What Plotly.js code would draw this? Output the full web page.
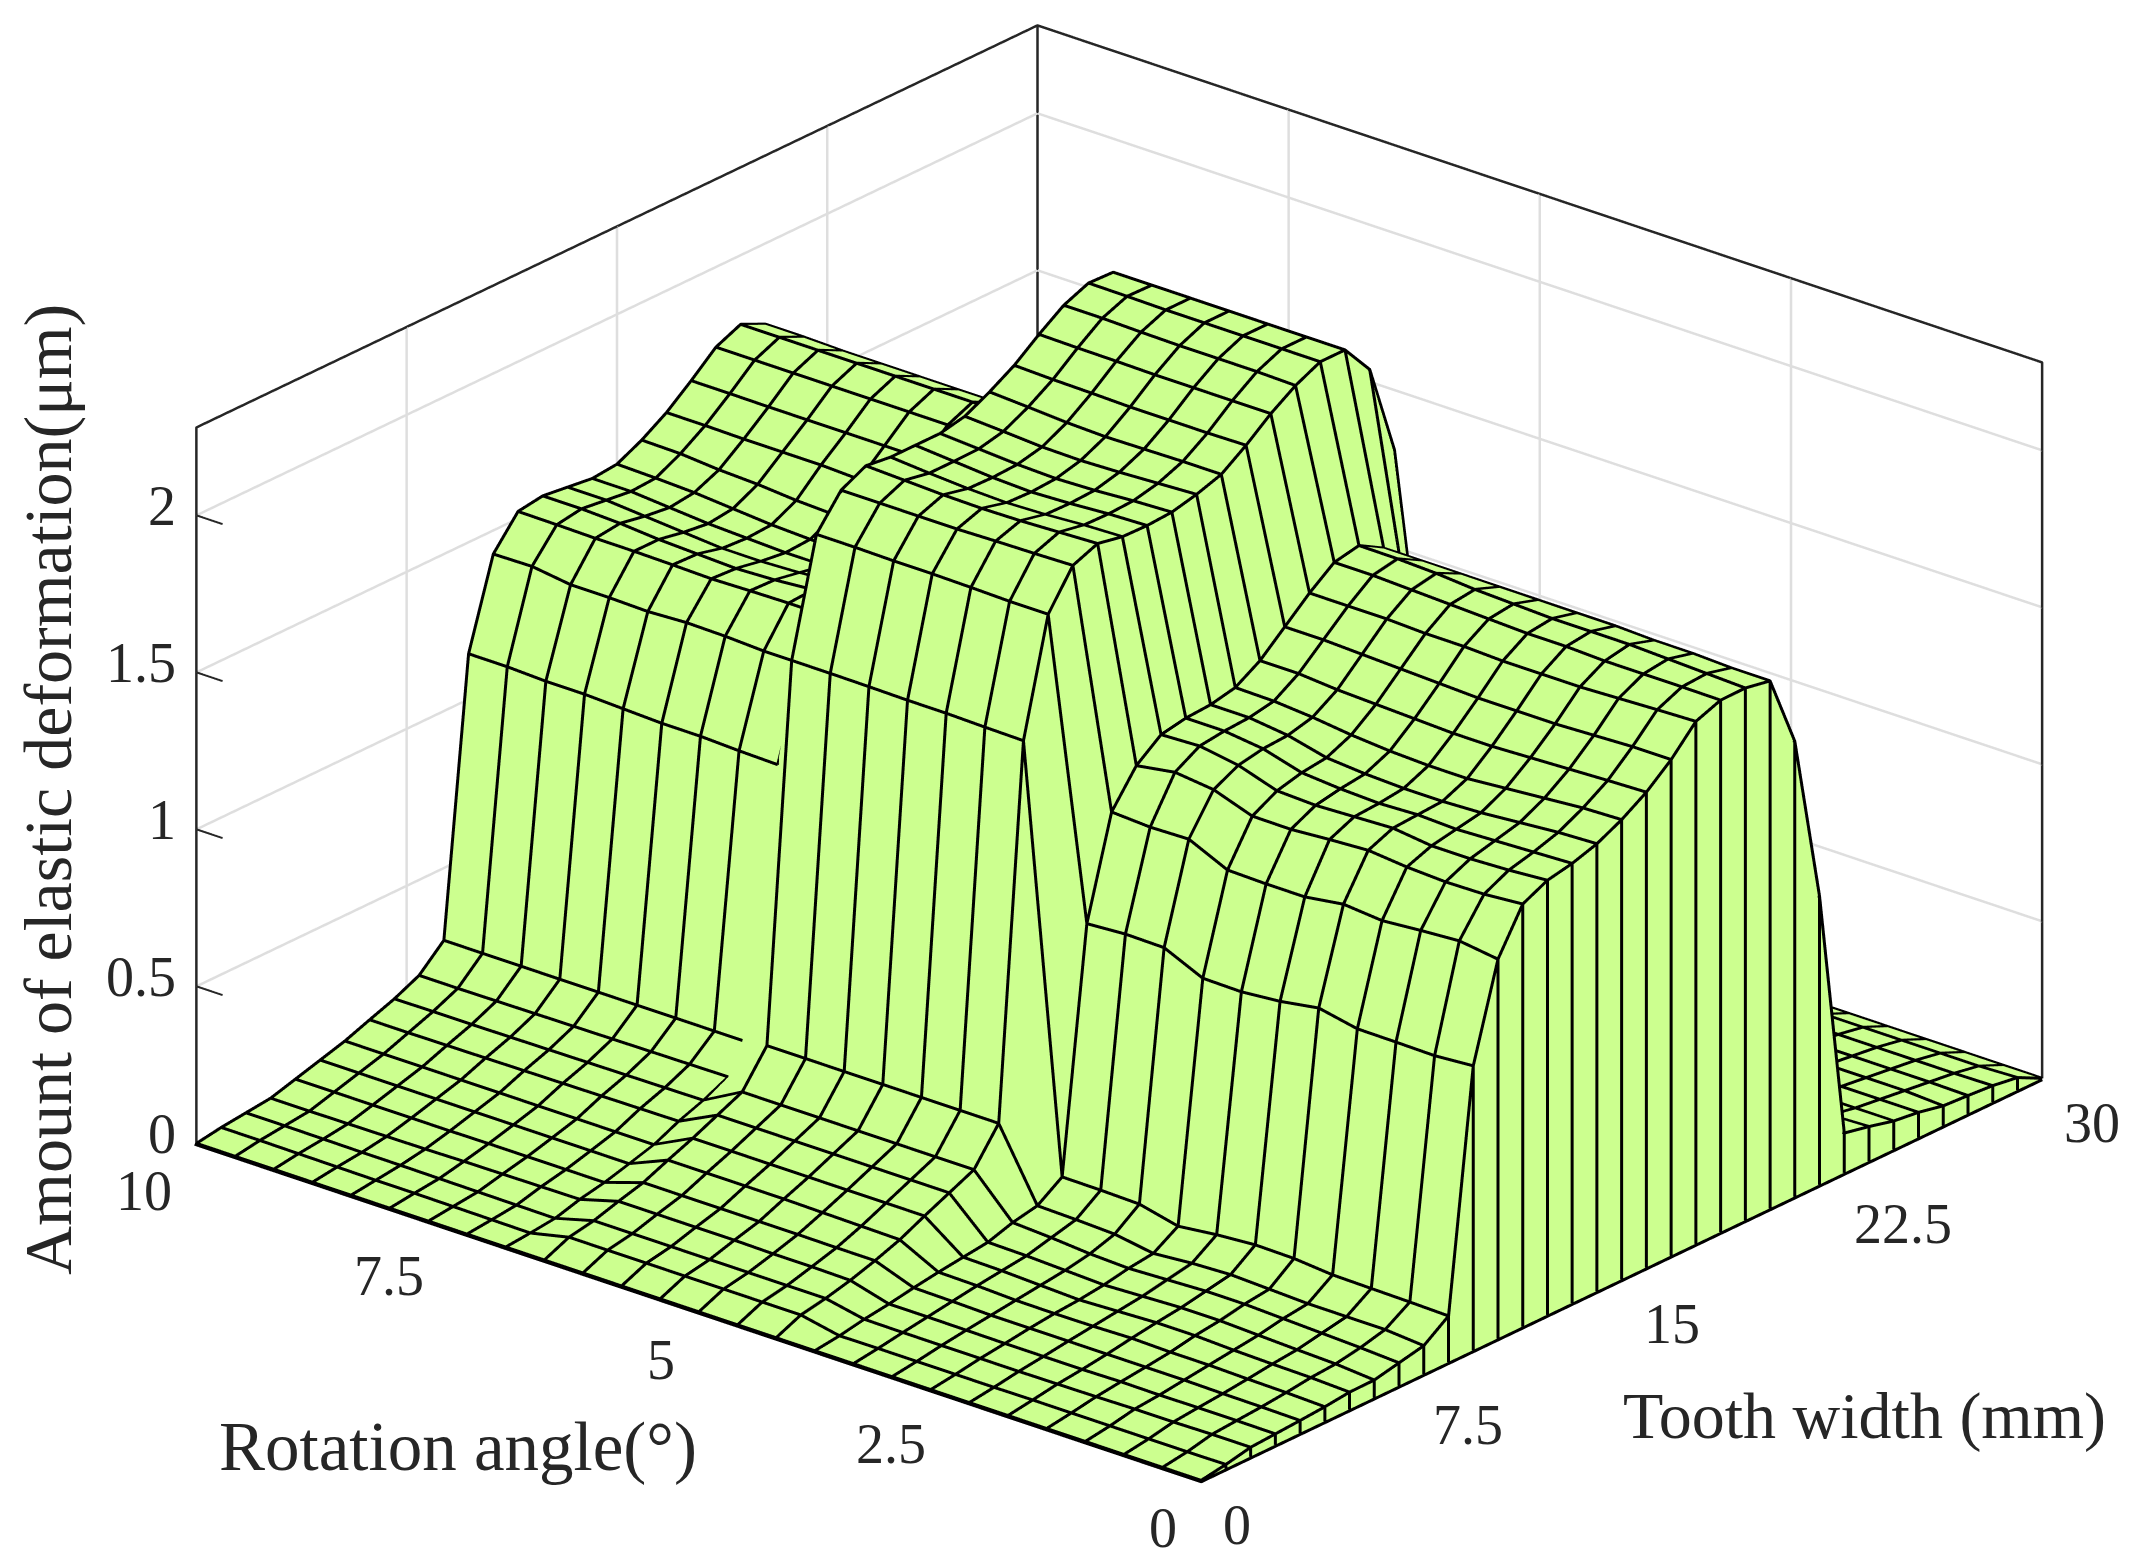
<!DOCTYPE html>
<html>
<head>
<meta charset="utf-8">
<script src="https://cdn.plot.ly/plotly-3.0.1.min.js"></script>
<style>
  html, body { margin: 0; padding: 0; background: #ffffff; }
  #chart { width: 2139px; height: 1564px; }
</style>
</head>
<body>
<div id="chart"></div>
<script>
const toothWidth = [0,0.882,1.765,2.647,3.529,4.412,5.294,6.176,7.059,7.941,8.824,9.706,10.588,11.471,12.353,13.235,14.118,15,15.882,16.765,17.647,18.529,19.412,20.294,21.176,22.059,22.941,23.824,24.706,25.588,26.471,27.353,28.235,29.118,30]
const rotationAngle = [0,0.385,0.769,1.154,1.538,1.923,2.308,2.692,3.077,3.462,3.846,4.231,4.615,5,5.385,5.769,6.154,6.538,6.923,7.308,7.692,8.077,8.462,8.846,9.231,9.615,10]

// one row per rotation angle, one column per tooth width position
const deformation = [
  [0,.013,.03,.035,.04,.046,.055,.056,.073,.09,.147,.906,1.208,1.346,1.384,1.4,1.425,1.464,1.514,1.58,1.664,1.694,1.695,1.68,1.45,.918,.127,.11,.09,.08,.063,.058,.052,.04,0],
  [0,.012,.03,.036,.042,.05,.06,.066,.08,.1,.15,.897,1.225,1.336,1.375,1.395,1.42,1.46,1.51,1.58,1.66,1.695,1.7,1.68,1.45,.92,.13,.105,.09,.08,.07,.06,.05,.035,0],
  [0,.012,.028,.036,.043,.052,.062,.07,.085,.1,.152,.899,1.217,1.334,1.37,1.39,1.41,1.45,1.505,1.575,1.655,1.695,1.705,1.685,1.45,.92,.13,.105,.09,.08,.07,.06,.05,.035,0],
  [0,.012,.028,.035,.045,.055,.065,.075,.09,.1,.154,.9,1.207,1.34,1.37,1.385,1.4,1.44,1.5,1.57,1.65,1.695,1.71,1.685,1.45,.92,.13,.105,.09,.08,.07,.06,.05,.035,0],
  [0,.012,.026,.036,.045,.055,.07,.08,.095,.105,.165,.925,1.218,1.352,1.385,1.39,1.395,1.43,1.495,1.57,1.65,1.7,1.71,1.69,1.45,.92,.13,.105,.09,.08,.07,.06,.05,.035,0],
  [0,.012,.025,.034,.045,.058,.07,.08,.095,.11,.167,.905,1.2,1.345,1.38,1.385,1.395,1.43,1.495,1.57,1.65,1.7,1.71,1.69,1.45,.92,.13,.105,.09,.08,.07,.06,.05,.035,0],
  [0,.011,.024,.034,.045,.055,.065,.075,.09,.105,.158,.894,1.2,1.336,1.375,1.39,1.4,1.435,1.5,1.575,1.655,1.705,1.715,1.69,1.45,.92,.13,.105,.09,.08,.07,.06,.05,.035,0],
  [0,.011,.024,.034,.045,.054,.06,.07,.085,.095,.144,.896,1.203,1.337,1.38,1.4,1.41,1.445,1.505,1.58,1.655,1.71,1.72,1.69,1.45,.92,.13,.105,.09,.08,.07,.06,.05,.035,0],
  [0,.011,.024,.035,.045,.055,.065,.075,.09,.115,.173,.952,1.26,1.38,1.42,1.435,1.44,1.46,1.51,1.585,1.66,1.715,1.73,1.69,1.45,.92,.13,.105,.09,.08,.07,.06,.05,.035,0],
  [0,.011,.024,.036,.048,.06,.07,.08,.1,.12,.176,.954,1.257,1.394,1.44,1.45,1.455,1.47,1.52,1.59,1.66,1.72,1.735,1.69,1.45,.92,.13,.105,.09,.08,.07,.06,.05,.035,0],
  [0,.01,.025,.036,.05,.062,.072,.082,.107,.123,.177,.946,1.264,1.374,1.435,1.45,1.455,1.472,1.52,1.59,1.66,1.72,1.736,1.69,1.45,.92,.13,.105,.09,.08,.07,.06,.05,.035,0],
  [0,.035,.05,.07,.095,.124,.162,.198,.234,.344,1.525,1.89,2.008,2.04,2.024,2.022,2.027,2.046,2.072,2.127,2.19,2.242,2.28,2.28,2.18,1.886,.8,.14,.1,.09,.07,.06,.05,.03,0],
  [0,.035,.05,.072,.095,.126,.162,.198,.234,.344,1.527,1.89,2.005,2.035,2.02,2.018,2.022,2.04,2.072,2.125,2.19,2.245,2.28,2.28,2.18,1.886,.8,.14,.1,.09,.07,.06,.05,.03,0],
  [0,.035,.05,.072,.096,.128,.162,.198,.234,.344,1.53,1.893,2.003,2.03,2.012,2.01,2.014,2.034,2.07,2.125,2.19,2.245,2.28,2.28,2.18,1.886,.8,.14,.1,.09,.07,.06,.05,.03,0],
  [0,.035,.05,.074,.096,.13,.162,.198,.234,.344,1.53,1.895,2.0,2.028,2.008,2.005,2.01,2.03,2.068,2.125,2.19,2.245,2.28,2.28,2.18,1.886,.8,.14,.1,.09,.07,.06,.05,.03,0],
  [0,.035,.05,.074,.096,.13,.162,.198,.234,.344,1.532,1.895,2.0,2.03,2.012,2.01,2.014,2.032,2.072,2.128,2.192,2.247,2.28,2.28,2.18,1.886,.8,.14,.1,.09,.07,.06,.05,.03,0],
  [0,.035,.05,.074,.096,.13,.162,.198,.234,.344,1.533,1.897,2.0,2.035,2.02,2.02,2.022,2.04,2.08,2.13,2.193,2.25,2.282,2.28,2.18,1.886,.8,.14,.1,.09,.07,.06,.05,.03,0],
  [0,.035,.05,.074,.096,.13,.162,.198,.234,.344,1.533,1.897,2.0,2.04,2.03,2.03,2.03,2.047,2.087,2.134,2.195,2.25,2.283,2.28,2.18,1.886,.8,.14,.1,.09,.07,.06,.05,.03,0],
  [0,.007,.016,.039,.055,.077,.1,.137,.166,.203,.27,1.122,1.405,1.52,1.53,1.52,1.5,1.49,1.52,1.6,1.67,1.74,1.78,1.74,1.5,.95,.15,.1,.09,.08,.07,.06,.05,.03,0],
  [0,.008,.017,.038,.055,.077,.1,.136,.165,.202,.27,1.125,1.405,1.52,1.525,1.51,1.49,1.485,1.52,1.6,1.67,1.74,1.78,1.74,1.5,.95,.15,.1,.09,.08,.07,.06,.05,.03,0],
  [0,.009,.018,.037,.055,.077,.1,.135,.164,.201,.27,1.13,1.411,1.518,1.515,1.5,1.485,1.485,1.525,1.605,1.675,1.745,1.78,1.74,1.5,.95,.15,.1,.09,.08,.07,.06,.05,.03,0],
  [0,.01,.019,.036,.055,.077,.1,.134,.163,.2,.27,1.13,1.413,1.515,1.51,1.495,1.485,1.49,1.53,1.605,1.675,1.745,1.78,1.74,1.5,.95,.15,.1,.09,.08,.07,.06,.05,.03,0],
  [0,.01,.02,.034,.054,.077,.1,.133,.162,.199,.27,1.135,1.407,1.518,1.515,1.495,1.49,1.495,1.535,1.61,1.675,1.745,1.78,1.74,1.5,.95,.15,.1,.09,.08,.07,.06,.05,.03,0],
  [0,.011,.02,.033,.054,.077,.1,.132,.161,.198,.27,1.14,1.41,1.52,1.52,1.505,1.495,1.505,1.545,1.61,1.675,1.745,1.78,1.74,1.5,.95,.15,.1,.09,.08,.07,.06,.05,.03,0],
  [0,.012,.021,.032,.054,.077,.1,.131,.16,.197,.27,1.14,1.41,1.52,1.53,1.515,1.505,1.515,1.55,1.61,1.675,1.745,1.78,1.74,1.5,.95,.15,.1,.09,.08,.07,.06,.05,.03,0],
  [0,.013,.022,.031,.054,.077,.1,.13,.16,.196,.27,1.145,1.427,1.522,1.535,1.525,1.515,1.52,1.56,1.612,1.676,1.745,1.78,1.743,1.5,.95,.15,.1,.09,.08,.07,.06,.05,.03,0],
  [0,.013,.022,.031,.054,.077,.1,.13,.159,.196,.27,1.145,1.425,1.523,1.535,1.525,1.515,1.523,1.562,1.612,1.676,1.745,1.78,1.743,1.5,.95,.15,.1,.09,.08,.07,.06,.05,.03,0]
]

const xTicks = [0, 7.5, 15, 22.5, 30]
const yTicks = [0, 2.5, 5, 7.5, 10]
const zTicks = [0, 0.5, 1, 1.5, 2]
const zTop = 2.28

const surfaceGreen = '#ccff8f'
const inkColor = '#262626'
const gridGrey = '#dedede'
const tickFont = { family: '"Liberation Serif", serif', size: 56, color: inkColor }
const titleFont = { family: '"Liberation Serif", serif', size: 69, color: inkColor }
const flatLight = { ambient: 1, diffuse: 0, specular: 0, roughness: 1, fresnel: 0 }
const flatScale = [[0, surfaceGreen], [1, surfaceGreen]]

// the wire sits a hair in front of the faces so the depth test keeps it
const wireDx = -0.063
const wireDy = -0.018
const wireDz = 0.0045

// the step row is hidden behind the wall here, so its wire is left out
const stepRow = 18
const brokenColumns = [9, 10, 11]
const brokenRowStarts = [10, 11]

function boxLine(xs, ys, zs, color, width) {
  return {
    type: 'scatter3d', mode: 'lines', x: xs, y: ys, z: zs,
    line: { color: color, width: width }, hoverinfo: 'skip', showlegend: false,
  }
}

function buildWire() {
  const xs = [], ys = [], zs = []
  const push = (x, y, z) => { xs.push(x + wireDx); ys.push(y + wireDy); zs.push(z + wireDz) }
  const gap = () => { xs.push(null); ys.push(null); zs.push(null) }
  deformation.forEach((row, j) => {
    row.forEach((v, i) => {
      if (j === stepRow && brokenRowStarts.includes(i)) gap()
      push(toothWidth[i], rotationAngle[j], v)
    })
    gap()
  })
  toothWidth.forEach((x, i) => {
    // curtain post, then the column over the surface
    push(x, 0, 0)
    deformation.forEach((row, j) => {
      if (j === stepRow && brokenColumns.includes(i)) gap()
      push(x, rotationAngle[j], row[i])
    })
    gap()
  })
  return boxLine(xs, ys, zs, '#000000', 6)
}

// native 3d grid lines stay one pixel wide, so the wall grid is drawn as lines
function buildWallGrid() {
  const xs = [], ys = [], zs = []
  zTicks.forEach(v => {
    xs.push(0, 30, 30, null)
    ys.push(10, 10, 0, null)
    zs.push(v, v, v, null)
  })
  xTicks.slice(1, -1).forEach(v => {
    xs.push(v, v, null)
    ys.push(10, 10, null)
    zs.push(0, zTop, null)
  })
  yTicks.slice(1, -1).forEach(v => {
    xs.push(30, 30, null)
    ys.push(v, v, null)
    zs.push(0, zTop, null)
  })
  return boxLine(xs, ys, zs, gridGrey, 5)
}

const surfaceTrace = {
  type: 'surface',
  x: toothWidth,
  y: rotationAngle,
  z: deformation,
  colorscale: flatScale,
  showscale: false,
  lighting: flatLight,
  hoverinfo: 'skip',
}

// curtain hanging from the first row down to the floor
const curtainTrace = {
  type: 'surface',
  x: [toothWidth, toothWidth],
  y: [toothWidth.map(() => 0), toothWidth.map(() => 0)],
  z: [toothWidth.map(() => 0), deformation[0]],
  colorscale: flatScale,
  showscale: false,
  lighting: flatLight,
  hoverinfo: 'skip',
}

const frameTraces = [
  boxLine([0, 0, 30, 30, 30], [10, 10, 10, 0, 0], [0, zTop, zTop, zTop, 0], inkColor, 5),
  boxLine([30, 30], [10, 10], [0, zTop], inkColor, 5),
  boxLine([30 + wireDx, wireDx, wireDx], [wireDy, wireDy, 10], [0, 0, 0], '#000000', 6),
]
const zTickTraces = zTicks.map(v => boxLine([0, 0], [10, 9.74], [v, v], inkColor, 4))

function tickNote(x, y, z, label, anchor, dx, dy) {
  return {
    x: x, y: y, z: z, text: label, showarrow: false, font: tickFont,
    xanchor: anchor, yanchor: 'middle', xshift: dx, yshift: dy,
  }
}

const sceneNotes = [
  ...xTicks.map(v => tickNote(v, 0, 0, String(v), 'left', 20, -45)),
  ...yTicks.map(v => tickNote(0, v, 0, String(v), 'right', -22, -48)),
  ...zTicks.map(v => tickNote(0, 10, v, String(v), 'right', -18, 9)),
]

function axisStyle(range, ticks) {
  return {
    range: range,
    autorange: false,
    tickmode: 'array',
    tickvals: ticks,
    showticklabels: false,
    ticks: '',
    title: { text: '' },
    showgrid: false,
    zeroline: false,
    showline: false,
    showbackground: false,
    showspikes: false,
  }
}

const layout = {
  width: 2139,
  height: 1564,
  paper_bgcolor: '#ffffff',
  margin: { t: 0, r: 0, b: 0, l: 0 },
  showlegend: false,
  scene: {
    domain: { x: [0, 1], y: [0, 1] },
    xaxis: axisStyle([-0.1, 30.1], xTicks),
    yaxis: axisStyle([-0.03, 10.03], yTicks),
    zaxis: axisStyle([-0.01, zTop + 0.015], zTicks),
    aspectmode: 'manual',
    aspectratio: { x: 1.686, y: 1.686, z: 1.01 },
    camera: {
      projection: { type: 'orthographic' },
      up: { x: 0, y: 0, z: 1 },
      center: { x: -0.05265, y: 0.03896, z: -0.03506 },
      eye: { x: -1.4577, y: -1.138, z: 0.7659 },
    },
    annotations: sceneNotes,
  },
  annotations: [
    { xref: 'paper', yref: 'paper', x: 1864 / 2139, y: 1 - 1416 / 1564, xanchor: 'center', yanchor: 'middle', text: 'Tooth width (mm)', showarrow: false, font: { family: titleFont.family, size: 66, color: inkColor } },
    { xref: 'paper', yref: 'paper', x: 458 / 2139, y: 1 - 1447 / 1564, xanchor: 'center', yanchor: 'middle', text: 'Rotation angle(°)', showarrow: false, font: titleFont },
    { xref: 'paper', yref: 'paper', x: 48 / 2139, y: 1 - 790 / 1564, xanchor: 'center', yanchor: 'middle', text: 'Amount of elastic deformation(μm)', textangle: -90, showarrow: false, font: { family: titleFont.family, size: 68, color: inkColor } },
  ],
}

const config = { displayModeBar: false, responsive: false }

Plotly.newPlot('chart', [buildWallGrid(), surfaceTrace, curtainTrace, buildWire(), ...frameTraces, ...zTickTraces], layout, config)
</script>
</body>
</html>
